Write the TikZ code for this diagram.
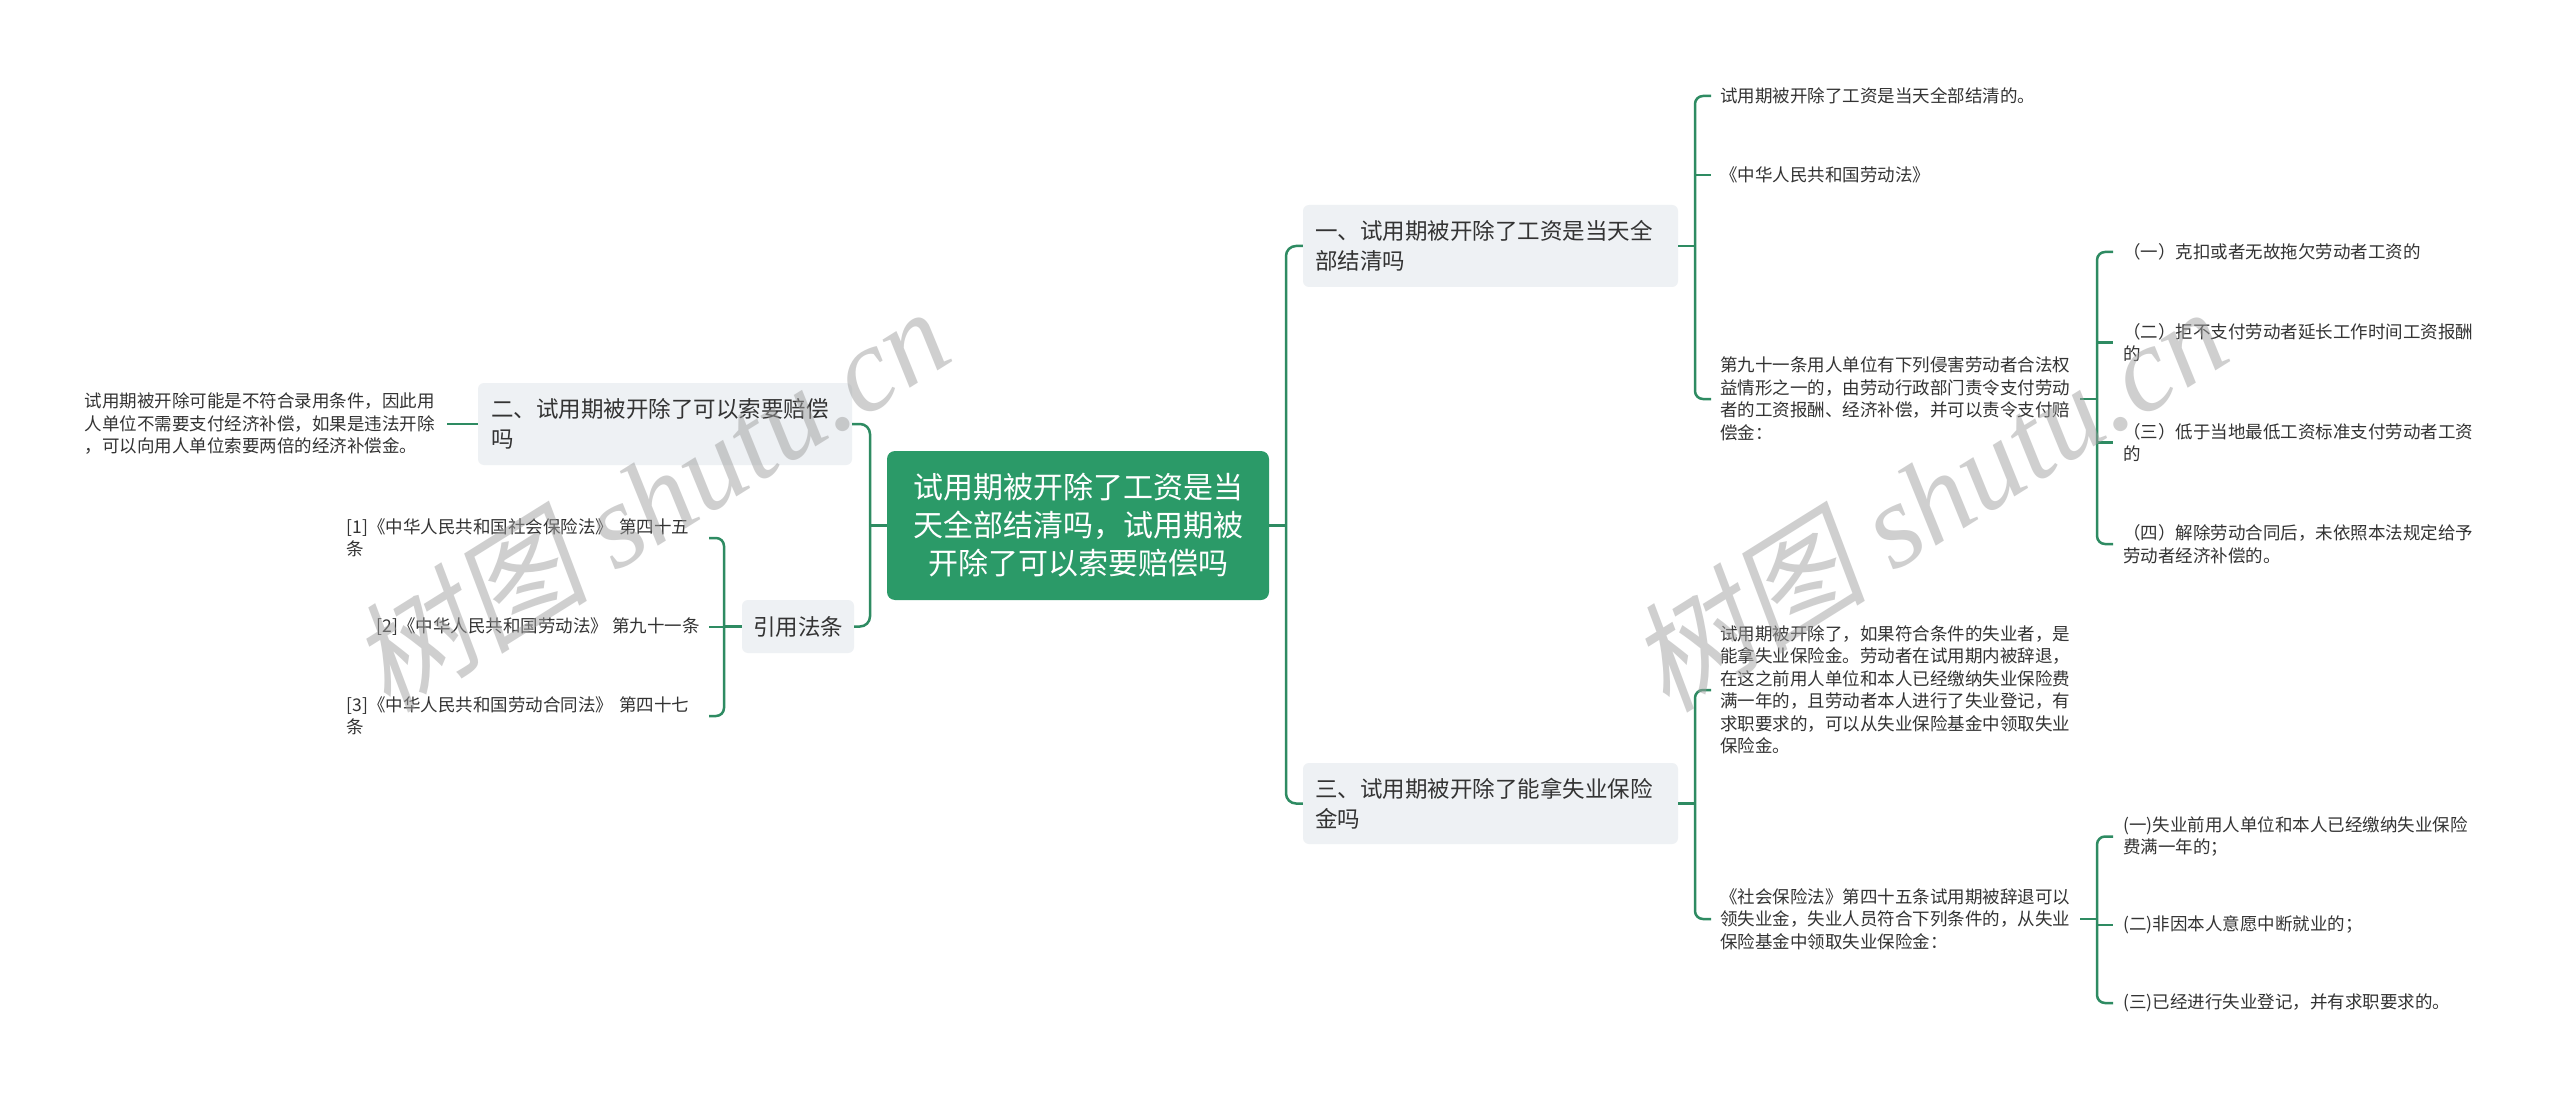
\documentclass[tikz,border=0pt]{standalone}
\usepackage{fontspec}
\setmainfont{Noto Sans CJK SC}
\newfontfamily\wmlatin{Liberation Serif}
\newfontfamily\wmcjk[FakeSlant=0.2]{Noto Sans CJK SC}
\usetikzlibrary{calc}
\definecolor{lineg}{HTML}{2E8B62}
\definecolor{rootg}{HTML}{2B9A68}
\definecolor{boxg}{HTML}{EEF1F4}
\definecolor{txtc}{HTML}{333333}
\definecolor{wmc}{HTML}{A0A0A0}
\begin{document}
\begin{tikzpicture}[x=1pt,y=-1pt,
  conn/.style={draw=lineg, line width=2.5pt},
  rootbox/.style={fill=rootg, rounded corners=8pt, text=white, font=\fontsize{30}{38}\selectfont, align=center, inner sep=0pt},
  lonebox/.style={fill=boxg, rounded corners=6pt, text=txtc, font=\fontsize{22.5}{30}\selectfont, align=left, inner sep=0pt},
  small/.style={text=txtc, font=\fontsize{17.5}{22.5}\selectfont, align=left, inner sep=0pt},
  wmark/.style={text=wmc, opacity=0.5, font=\fontsize{120}{120}\selectfont, inner sep=0pt},
]
\useasboundingbox[fill=white] (0,0) rectangle (2560,1099);

% root
\node[rootbox, minimum width=382pt, minimum height=149pt] (root) at (1078,525.5)
  {试用期被开除了工资是当\\天全部结清吗，试用期被\\开除了可以索要赔偿吗};

% level 1
\node[lonebox, minimum width=375pt, minimum height=82pt, text width=351pt] (n1) at (1490.5,246)
  {一、试用期被开除了工资是当天全\\部结清吗};
\node[lonebox, minimum width=375pt, minimum height=81pt, text width=351pt] (n3) at (1490.5,803.5)
  {三、试用期被开除了能拿失业保险\\金吗};
\node[lonebox, minimum width=374pt, minimum height=82pt, text width=348pt] (n2) at (665,424)
  {二、试用期被开除了可以索要赔偿\\吗};
\node[lonebox, minimum width=112pt, minimum height=53pt, align=center] (ref) at (798,626.5)
  {引用法条};

% left texts
\node[small, anchor=east] (lt) at (435,424)
  {试用期被开除可能是不符合录用条件，因此用\\人单位不需要支付经济补偿，如果是违法开除\\，可以向用人单位索要两倍的经济补偿金。};
\node[small, anchor=east, text width=353pt] (r1) at (700,538)
  {[1]《中华人民共和国社会保险法》 第四十五\\条};
\node[small, anchor=east] (r2) at (700,627)
  {[2]《中华人民共和国劳动法》 第九十一条};
\node[small, anchor=east, text width=353pt] (r3) at (700,716)
  {[3]《中华人民共和国劳动合同法》 第四十七\\条};

% right texts (branch 1)
\node[small, anchor=west] (c1) at (1720,96) {试用期被开除了工资是当天全部结清的。};
\node[small, anchor=west] (c2) at (1720,175) {《中华人民共和国劳动法》};
\node[small, anchor=west] (c3) at (1720,399)
  {第九十一条用人单位有下列侵害劳动者合法权\\益情形之一的，由劳动行政部门责令支付劳动\\者的工资报酬、经济补偿，并可以责令支付赔\\偿金：};
\node[small, anchor=west] (d1) at (2123,252) {（一）克扣或者无故拖欠劳动者工资的};
\node[small, anchor=west] (d2) at (2123,342.5) {（二）拒不支付劳动者延长工作时间工资报酬\\的};
\node[small, anchor=west] (d3) at (2123,442.5) {（三）低于当地最低工资标准支付劳动者工资\\的};
\node[small, anchor=west] (d4) at (2123,544) {（四）解除劳动合同后，未依照本法规定给予\\劳动者经济补偿的。};

% right texts (branch 3)
\node[small, anchor=west] (e1) at (1720,690)
  {试用期被开除了，如果符合条件的失业者，是\\能拿失业保险金。劳动者在试用期内被辞退，\\在这之前用人单位和本人已经缴纳失业保险费\\满一年的，且劳动者本人进行了失业登记，有\\求职要求的，可以从失业保险基金中领取失业\\保险金。};
\node[small, anchor=west] (e2) at (1720,919)
  {《社会保险法》第四十五条试用期被辞退可以\\领失业金，失业人员符合下列条件的，从失业\\保险基金中领取失业保险金：};
\node[small, anchor=west] (f1) at (2123,836.5) {(一)失业前用人单位和本人已经缴纳失业保险\\费满一年的；};
\node[small, anchor=west] (f2) at (2123,925) {(二)非因本人意愿中断就业的；};
\node[small, anchor=west] (f3) at (2123,1003) {(三)已经进行失业登记，并有求职要求的。};

% trunk coordinates
\coordinate (tM) at (870,0);
\coordinate (tL) at (724,0);
\coordinate (tR) at (1286,0);
\coordinate (t1) at (1695,0);
\coordinate (tc) at (2097,0);

% left connectors
\draw[conn] (root.west) -- (tM |- root.west);
\draw[conn, rounded corners=10pt] (n2.east) -| (tM |- ref.east) -- (ref.east);
\draw[conn, shorten >=12pt] (n2.west) -- (lt.east);
\draw[conn] (ref.west) -- (tL |- ref.west);
\draw[conn, rounded corners=8pt] ([xshift=9pt]r1.east) -| (tL |- r3.east) -- ([xshift=9pt]r3.east);
\draw[conn] (tL |- r2.east) -- ([xshift=9pt]r2.east);

% right connectors
\draw[conn] (root.east) -- (tR |- root.east);
\draw[conn, rounded corners=10pt] (n1.west) -| (tR |- n3.west) -- (n3.west);

\draw[conn] (n1.east) -- (t1 |- n1.east);
\draw[conn, rounded corners=8pt] ([xshift=-9pt]c1.west) -| (t1 |- c3.west) -- ([xshift=-9pt]c3.west);
\draw[conn] (t1 |- c2.west) -- ([xshift=-9pt]c2.west);
\draw[conn] ([xshift=10pt]c3.east) -- (tc |- c3.east);
\draw[conn, rounded corners=8pt] ([xshift=-10pt]d1.west) -| (tc |- d4.west) -- ([xshift=-10pt]d4.west);
\draw[conn] (tc |- d2.west) -- ([xshift=-10pt]d2.west);
\draw[conn] (tc |- d3.west) -- ([xshift=-10pt]d3.west);

\draw[conn] (n3.east) -- (t1 |- n3.east);
\draw[conn, rounded corners=8pt] ([xshift=-9pt]e1.west) -| (t1 |- e2.west) -- ([xshift=-9pt]e2.west);
\draw[conn] ([xshift=10pt]e2.east) -- (tc |- e2.east);
\draw[conn, rounded corners=8pt] ([xshift=-10pt]f1.west) -| (tc |- f3.west) -- ([xshift=-10pt]f3.west);
\draw[conn] (tc |- f2.west) -- ([xshift=-10pt]f2.west);

% watermarks
\node[wmark, rotate=32] (wm1) at (649,498) {{\wmcjk 树图} {\wmlatin\itshape shutu.cn}};
\node[wmark, rotate=32] (wm2) at (1927,498) {{\wmcjk 树图} {\wmlatin\itshape shutu.cn}};
\end{tikzpicture}
\end{document}
